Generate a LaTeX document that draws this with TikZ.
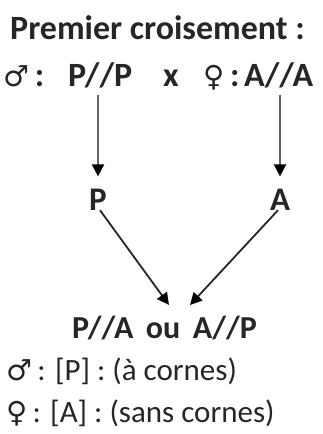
\documentclass[tikz,border=0pt]{standalone}
\usepackage{fontspec}
\setmainfont{Carlito}
\newfontfamily\symfont{DejaVu Sans}
\newcommand\sexsym[1]{{\symfont\fontsize{29}{30}\selectfont #1}}
\usetikzlibrary{arrows.meta}
\tikzset{
  boldline/.style={inner sep=0pt, anchor=base west, font=\fontsize{34}{38}\selectfont\bfseries, text=black!85},
  plainline/.style={inner sep=0pt, anchor=base west, font=\fontsize{31}{36}\selectfont, text=black!85},
  gamete/.style={inner sep=0pt, anchor=base, font=\fontsize{33}{38}\selectfont\bfseries, text=black!85},
  flow/.style={-{Triangle[length=12pt, width=12pt, color=black]}, line width=1.8pt},
}
\begin{document}
\begin{tikzpicture}[x=1pt, y=-1pt]
\useasboundingbox (0,0) rectangle (323,434);
% parents
\node[boldline] (title) at (10,39) {Premier croisement :};
\node[boldline] (male) at (3,86) {\sexsym{♂}\,:};
\node[boldline] (pp) at (68,86) {P//P};
\node[boldline] (cross) at (163,86) {x};
\node[boldline] (female) at (203,86) {\sexsym{♀}\,:};
\node[boldline] (aa) at (244,86) {A//A};
% gametes
\node[gamete] (gP) at (98,210) {P};
\node[gamete] (gA) at (280,210) {A};
\draw[flow, black!60, shorten <=7pt, shorten >=12pt] (gP |- pp.south) -- (gP.north);
\draw[flow, black!60, shorten <=7pt, shorten >=12pt] (gA |- aa.south) -- (gA.north);
% offspring
\node[boldline, font=\fontsize{32}{38}\selectfont\bfseries] (child) at (72,338) {P//A\, ou\, A//P};
\coordinate (tipP) at (169,305);
\coordinate (tipA) at (190,305);
\draw[flow, black!85] (gP.south) ++(2,0) -- (tipP);
\draw[flow, black!85] (gA.south) ++(-2,0) -- (tipA);
\node[plainline] (phenoM) at (6,380) {\sexsym{♂}\,: [P] : (à cornes)};
\node[plainline] (phenoF) at (6,422) {\sexsym{♀}\,: [A] : (sans cornes)};
\end{tikzpicture}
\end{document}
